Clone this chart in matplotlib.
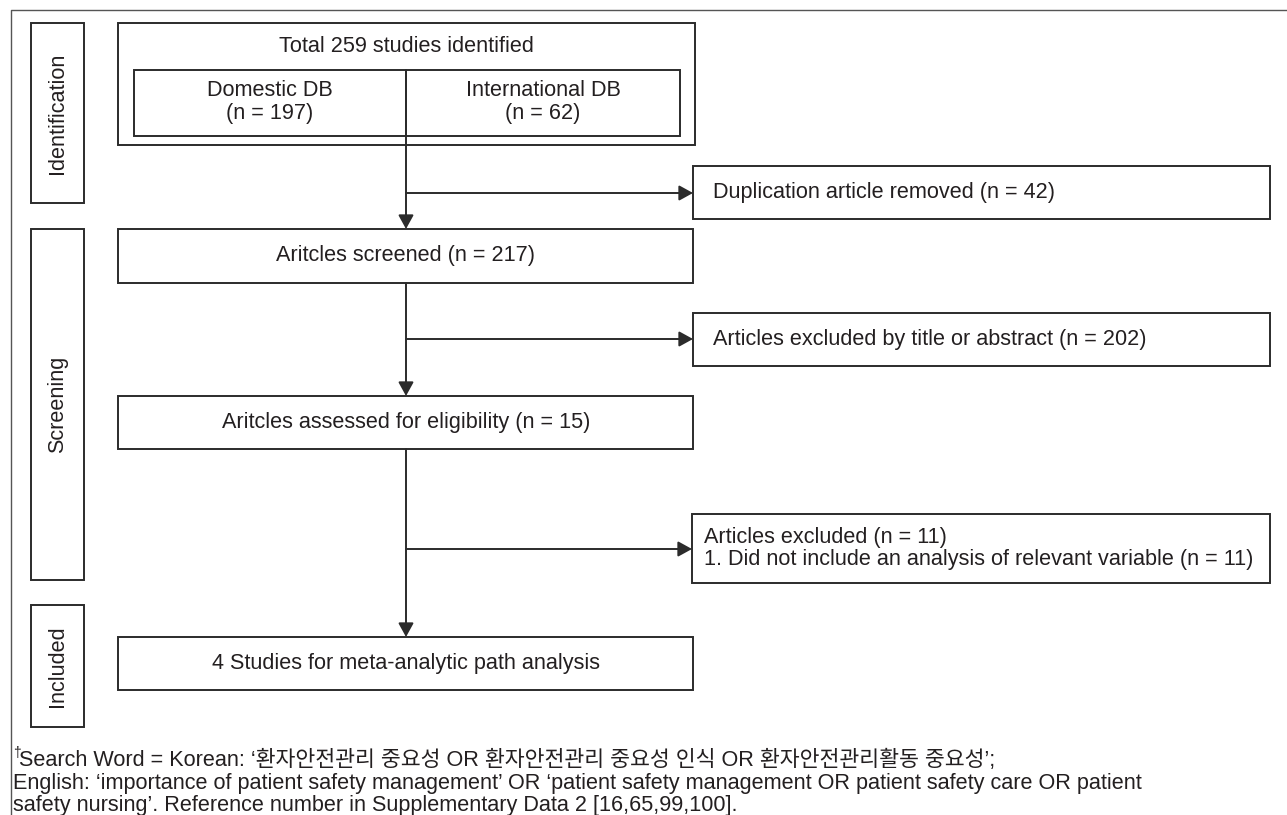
import matplotlib.pyplot as plt
from matplotlib.patches import Rectangle

# flow diagram content
stages = ["Identification", "Screening", "Included"]
total_label = "Total 259 studies identified"
sources = ["Domestic DB", "International DB"]
source_n = [197, 62]
main_steps = ["Aritcles screened", "Aritcles assessed for eligibility"]
main_n = [217, 15]
final_label = "4 Studies for meta-analytic path analysis"
removed = ["Duplication article removed", "Articles excluded by title or abstract", "Articles excluded"]
removed_n = [42, 202, 11]
reasons = ["Did not include an analysis of relevant variable"]
reason_n = [11]
footnote = [
    "Search Word = Korean: ‘환자안전관리 중요성 OR 환자안전관리 중요성 인식 OR 환자안전관리활동 중요성’;",
    "English: ‘importance of patient safety management’ OR ‘patient safety management OR patient safety care OR patient",
    "safety nursing’. Reference number in Supplementary Data 2 [16,65,99,100].",
]

W, H = 1287, 815
LINE = "#2b2b2b"
TXT = "#231f20"
FS = 15.6

plt.rcParams['font.family'] = ['Liberation Sans', 'Noto Sans CJK KR', 'DejaVu Sans']

fig = plt.figure(figsize=(12.87, 8.15), dpi=100)
ax = fig.add_axes([0, 0, 1, 1])
ax.set_xlim(0, W)
ax.set_ylim(H, 0)
ax.axis('off')


def box(x0, y0, x1, y1):
    ax.add_patch(Rectangle((x0, y0), x1 - x0, y1 - y0, fill=False, lw=1.4, ec=LINE))


def arrow(x0, y0, x1, y1):
    ax.annotate('', xy=(x1, y1), xytext=(x0, y0),
                arrowprops=dict(arrowstyle='-|>,head_length=0.4,head_width=0.22',
                                color=LINE, lw=1.4, shrinkA=0, shrinkB=0,
                                mutation_scale=21))


# outer frame (open to the right and bottom)
ax.plot([10.5, 10.5, W + 5], [H + 5, 9.5, 9.5], lw=1.0, color='#555555')

# stage labels
stage_y = [(23, 203), (229, 580), (605, 727)]
for name, (y0, y1) in zip(stages, stage_y):
    box(31, y0, 84, y1)
    ax.text(57.5, (y0 + y1) / 2, name, rotation=90, ha='center', va='center',
            fontsize=FS, color=TXT)

# identification block
box(118, 23, 695, 145)
ax.text(406, 46, total_label, ha='center', va='center', fontsize=FS, color=TXT)
src_x = [(134, 406), (406, 680)]
for name, n, (x0, x1) in zip(sources, source_n, src_x):
    box(x0, 70, x1, 136)
    ax.text((x0 + x1) / 2, 102, f"{name}\n(n = {n})", ha='center', va='center',
            fontsize=FS, color=TXT, linespacing=1.1)

# main column
main_y = [(229, 283), (396, 449)]
for name, n, (y0, y1) in zip(main_steps, main_n, main_y):
    box(118, y0, 693, y1)
    ax.text(406, (y0 + y1) / 2, f"{name} (n = {n})", ha='center', va='center',
            fontsize=FS, color=TXT)
box(118, 637, 693, 690)
ax.text(406, 663.5, final_label, ha='center', va='center', fontsize=FS, color=TXT)

# vertical flow
arrow(406, 136, 406, 229)
arrow(406, 283, 406, 396)
arrow(406, 449, 406, 637)

# side (removed) boxes
side = [(193, 693, 166, 219), (339, 693, 313, 366), (549, 692, 514, 583)]
for i, (ya, x0, y0, y1) in enumerate(side):
    box(x0, y0, 1270, y1)
    arrow(406, ya, x0, ya)
    label = f"{removed[i]} (n = {removed_n[i]})"
    if i < 2:
        ax.text(713, (y0 + y1) / 2, label, ha='left', va='center', fontsize=FS, color=TXT)
    else:
        lines = [label] + [f"{k + 1}. {r} (n = {rn})" for k, (r, rn) in enumerate(zip(reasons, reason_n))]
        ax.text(704, (y0 + y1) / 2, "\n".join(lines), ha='left', va='center',
                fontsize=FS, color=TXT, linespacing=1.1)

# footnote
ax.text(13, 753, "†", fontsize=10, color=TXT, ha='left', va='center')
foot_y = [760, 784, 805]
for k, (line, y) in enumerate(zip(footnote, foot_y)):
    ax.text(19 if k == 0 else 13, y, line, ha='left', va='center', fontsize=FS, color=TXT)

fig.savefig("out.png", dpi=100)
